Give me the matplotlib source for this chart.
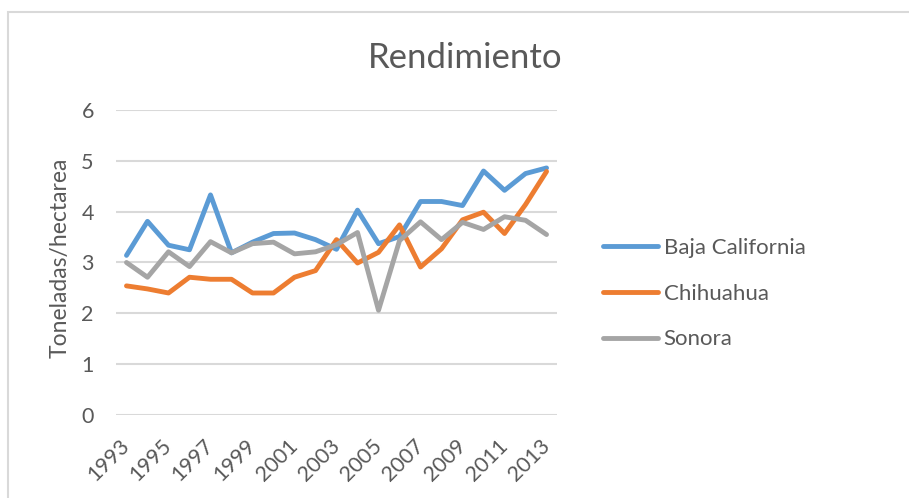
import matplotlib.pyplot as plt
from matplotlib.patches import Rectangle

plt.rcParams['font.family'] = ['Lato', 'DejaVu Sans']

years = list(range(1993, 2014))
baja_california = [3.14, 3.81, 3.34, 3.25, 4.33, 3.19, 3.40, 3.57, 3.58, 3.45, 3.26,
                   4.03, 3.37, 3.51, 4.20, 4.20, 4.12, 4.80, 4.42, 4.75, 4.86]
chihuahua = [2.54, 2.48, 2.40, 2.71, 2.67, 2.67, 2.40, 2.40, 2.71, 2.84, 3.45,
             2.99, 3.20, 3.74, 2.91, 3.27, 3.84, 3.99, 3.57, 4.14, 4.79]
sonora = [3.00, 2.71, 3.21, 2.92, 3.41, 3.19, 3.37, 3.40, 3.17, 3.21, 3.35,
          3.59, 2.06, 3.43, 3.80, 3.45, 3.79, 3.65, 3.90, 3.83, 3.55]

series = [
    ("Baja California", baja_california, "#5B9BD5"),
    ("Chihuahua", chihuahua, "#ED7D31"),
    ("Sonora", sonora, "#A5A5A5"),
]

text_color = "#595959"
grid_color = "#D9D9D9"

fig = plt.figure(figsize=(9.09, 4.98), dpi=100)
ax = fig.add_axes([0.1276, 0.1667, 0.4852, 0.6124])

for name, vals, color in series:
    ax.plot(years, vals, color=color, lw=3.5, label=name,
            solid_joinstyle="round", solid_capstyle="round")

ax.set_xlim(1992.5, 2013.5)
ax.set_ylim(0, 6)
ax.set_yticks(range(0, 7))
ax.set_xticks(years[::2])
ax.set_xticklabels([str(y) for y in years[::2]], rotation=45,
                   ha="right", va="center", rotation_mode="anchor")
ax.grid(axis="y", color=grid_color, lw=1.5)
ax.set_axisbelow(True)
for s in ax.spines.values():
    s.set_visible(False)
ax.tick_params(axis="both", length=0, colors=text_color, labelsize=15.5)
ax.tick_params(axis="y", pad=16)
ax.tick_params(axis="x", pad=20)

fig.text(60 / 909, 1 - 258 / 498, "Toneladas/hectarea", rotation=90,
         ha="center", va="center", fontsize=16.5, color=text_color)
fig.text(0.512, 0.883, "Rendimiento", ha="center", va="center",
         fontsize=25, color=text_color)

leg = ax.legend(loc="center left", bbox_to_anchor=(0.663, 0.41),
                bbox_transform=fig.transFigure, frameon=False,
                fontsize=16, handlelength=2.5, handletextpad=0.25,
                labelspacing=1.15, borderaxespad=0, borderpad=0)
for t in leg.get_texts():
    t.set_color(text_color)

# chart frame
fig.patches.append(Rectangle((8 / 909, -0.1), 1.2, 1.1 - 12.5 / 498,
                             transform=fig.transFigure, fill=False,
                             edgecolor=grid_color, lw=1.5))

fig.savefig("out.png", dpi=100)
